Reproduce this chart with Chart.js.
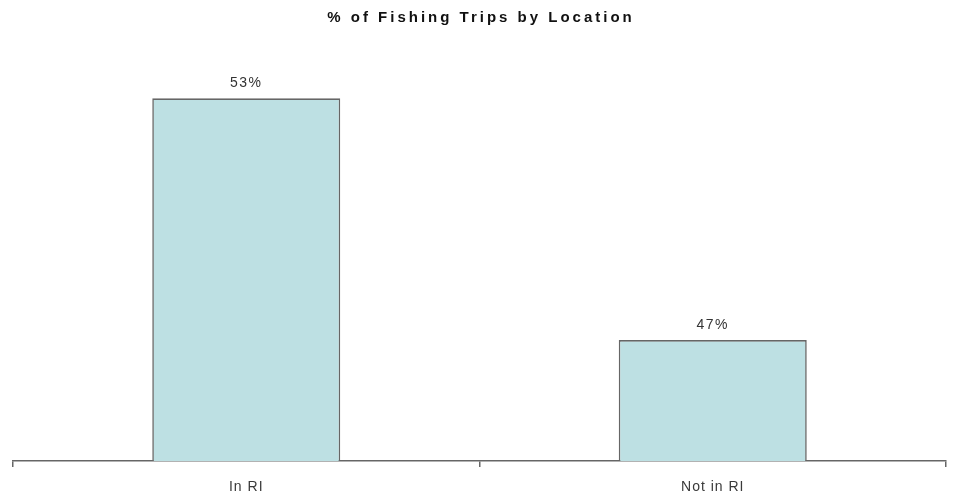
<!DOCTYPE html>
<html>
<head>
<meta charset="utf-8">
<script src="https://cdn.jsdelivr.net/npm/chart.js@4/dist/chart.umd.min.js"></script>
<style>
    html, body { margin: 0; padding: 0; background: #fff; }
    #wrap { width: 956px; height: 502px; }
</style>
</head>
<body>
<div id="wrap"><canvas id="chartCanvas"></canvas></div>
<script>
const chartTitle = "% of Fishing Trips by Location";
const locations = ["In RI", "Not in RI"];
const tripShare = [53, 47];

document.addEventListener("DOMContentLoaded", function () {
    const ctx = document.getElementById("chartCanvas").getContext("2d");

    // spacing for the axis labels, set before any layer is drawn
    const spacingPlugin = {
        id: "spacing",
        beforeDraw(chart) {
            chart.ctx.letterSpacing = "1px";
        }
    };

    // percent labels above each bar, plus the heading
    const labelPlugin = {
        id: "labels",
        afterDatasetsDraw(chart) {
            const c = chart.ctx;
            const meta = chart.getDatasetMeta(0);
            c.save();
            c.letterSpacing = "1.5px";
            c.font = "14px 'Liberation Sans', Arial, sans-serif";
            c.fillStyle = "#333";
            c.textAlign = "center";
            c.textBaseline = "middle";
            meta.data.forEach((bar, i) => {
                c.fillText(tripShare[i] + "%", bar.x, bar.y - 15);
            });
            c.restore();
        },
        afterDraw(chart) {
            const c = chart.ctx;
            c.save();
            c.letterSpacing = "3px";
            c.font = "bold 15px 'Liberation Sans', Arial, sans-serif";
            c.fillStyle = "#111";
            c.textAlign = "center";
            c.textBaseline = "middle";
            c.fillText(chartTitle, 481, 18);
            c.restore();
        }
    };

    new Chart(ctx, {
        type: "bar",
        data: {
            labels: locations,
            datasets: [{
                data: tripShare,
                backgroundColor: "#bde0e3",
                borderColor: "#666",
                borderWidth: 1.6,
                categoryPercentage: 1.0,
                barPercentage: 0.403
            }]
        },
        options: {
            responsive: true,
            maintainAspectRatio: false,
            animation: false,
            layout: {
                padding: { top: 58, left: 13, right: 10, bottom: 0 }
            },
            plugins: {
                legend: { display: false },
                title: { display: false },
                tooltip: { enabled: false }
            },
            scales: {
                x: {
                    offset: true,
                    afterFit(scale) {
                        scale.height = 41;
                    },
                    grid: {
                        offset: true,
                        drawOnChartArea: false,
                        drawTicks: true,
                        tickLength: 6,
                        lineWidth: 1.5,
                        color: "#666"
                    },
                    border: { display: true, color: "#666", width: 1.5 },
                    ticks: {
                        color: "#3a3a3a",
                        padding: 12,
                        font: { family: "'Liberation Sans', Arial, sans-serif", size: 14 }
                    }
                },
                y: {
                    display: false,
                    min: 44,
                    max: 54
                }
            }
        },
        plugins: [spacingPlugin, labelPlugin]
    });
});
</script>
</body>
</html>
